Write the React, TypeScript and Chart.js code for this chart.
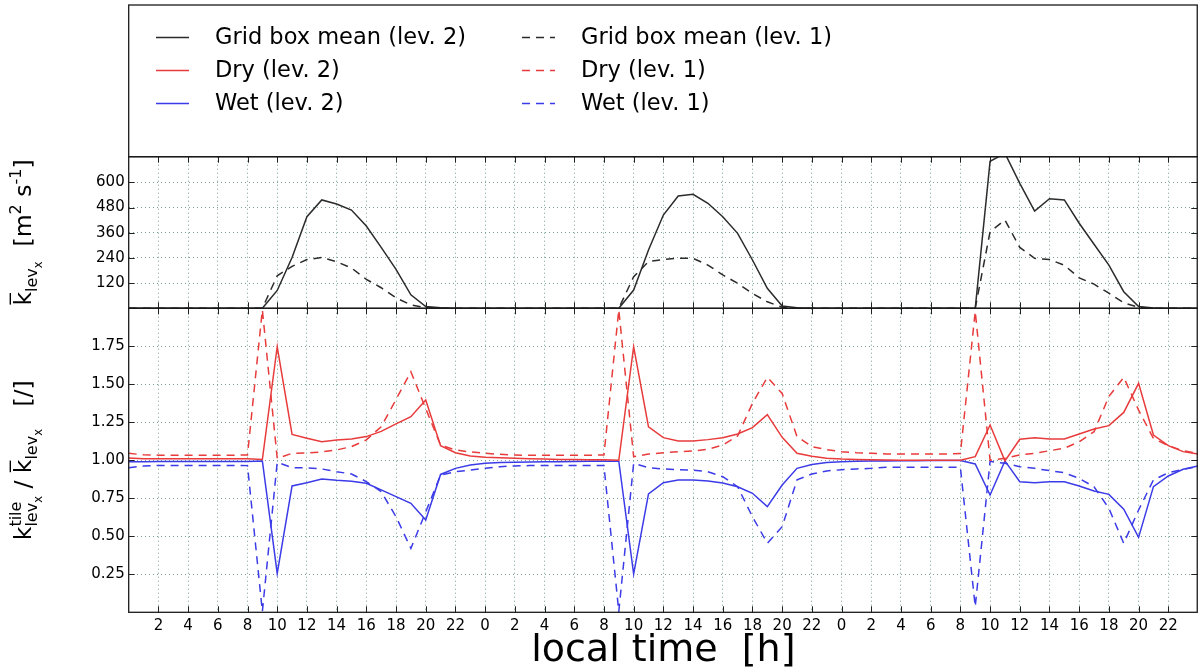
import React, { useEffect, useRef } from 'react';
import { Chart, registerables } from 'chart.js';

Chart.register(...registerables);

// ---------------- data ----------------
const HOURS = [
  0, 1, 2, 3, 4, 5, 6, 7, 8, 9, 10, 11, 12, 13, 14, 15, 16, 17, 18, 19, 20, 21, 22, 23,
  24, 25, 26, 27, 28, 29, 30, 31, 32, 33, 34, 35, 36, 37, 38, 39, 40, 41, 42, 43, 44, 45, 46, 47,
  48, 49, 50, 51, 52, 53, 54, 55, 56, 57, 58, 59, 60, 61, 62, 63, 64, 65, 66, 67, 68, 69, 70, 71, 72,
];

// upper panel: grid box mean diffusivity [m2 s-1]
const GBM_LEV2 = [
  0, 0, 0, 0, 0, 0, 0, 0, 0, 0, 85, 242, 436, 516, 497, 468, 392, 290, 185, 64, 8, 3, 0, 0,
  0, 0, 0, 0, 0, 0, 0, 0, 0, 0, 87, 278, 444, 535, 543, 500, 436, 357, 230, 95, 11, 3, 0, 0,
  0, 0, 0, 0, 0, 0, 0, 0, 0, 0, 700, 738, 595, 463, 522, 516, 405, 305, 206, 79, 8, 2, 0, 0, 0,
];
const GBM_LEV1 = [
  0, 0, 0, 0, 0, 0, 0, 0, 0, 0, 155, 200, 232, 242, 222, 192, 138, 98, 50, 16, 3, 0, 0, 0,
  0, 0, 0, 0, 0, 0, 0, 0, 0, 0, 150, 222, 233, 238, 238, 206, 159, 119, 71, 31, 5, 0, 0, 0,
  0, 0, 0, 0, 0, 0, 0, 0, 0, 0, 365, 420, 290, 238, 232, 205, 145, 115, 72, 26, 5, 0, 0, 0, 0,
];

// lower panel: tile / grid box mean ratio [/]
const DRY_LEV2 = [
  1.015, 1.01, 1.01, 1.01, 1.01, 1.01, 1.01, 1.01, 1.01, 1.005, 1.747, 1.17, 1.145, 1.122, 1.134, 1.14,
  1.156, 1.19, 1.24, 1.287, 1.397, 1.096, 1.05, 1.028,
  1.02, 1.017, 1.013, 1.011, 1.008, 1.006, 1.005, 1.004, 1.003, 1.0, 1.747, 1.22, 1.149, 1.127, 1.127, 1.136,
  1.149, 1.173, 1.215, 1.3, 1.151, 1.046, 1.026, 1.014,
  1.008, 1.005, 1.003, 1.002, 1.001, 1.0, 1.0, 1.0, 1.0, 1.024, 1.232, 0.996, 1.138, 1.149, 1.14, 1.14,
  1.173, 1.206, 1.228, 1.315, 1.506, 1.166, 1.096, 1.057, 1.041,
];
const DRY_LEV1 = [
  1.046, 1.036, 1.034, 1.033, 1.033, 1.033, 1.033, 1.033, 1.035, 1.99, 1.013, 1.046, 1.048, 1.055, 1.068, 1.09,
  1.134, 1.221, 1.4, 1.583, 1.34, 1.1, 1.068, 1.055,
  1.046, 1.039, 1.035, 1.033, 1.033, 1.033, 1.033, 1.033, 1.035, 1.99, 1.024, 1.041, 1.05, 1.057, 1.061, 1.072,
  1.1, 1.16, 1.375, 1.546, 1.44, 1.156, 1.09, 1.07,
  1.057, 1.05, 1.046, 1.042, 1.041, 1.041, 1.041, 1.041, 1.044, 1.98, 1.0, 1.013, 1.035, 1.046, 1.063, 1.079,
  1.122, 1.188, 1.42, 1.546, 1.33, 1.144, 1.096, 1.063, 1.046,
];
const WET_LEV2 = [
  0.99, 0.991, 0.992, 0.992, 0.992, 0.992, 0.992, 0.992, 0.992, 0.996, 0.256, 0.831, 0.853, 0.877, 0.868, 0.862,
  0.849, 0.805, 0.761, 0.717, 0.607, 0.907, 0.947, 0.969,
  0.98, 0.985, 0.987, 0.989, 0.99, 0.991, 0.992, 0.993, 0.993, 0.994, 0.252, 0.779, 0.853, 0.871, 0.871, 0.864,
  0.851, 0.826, 0.783, 0.695, 0.837, 0.947, 0.973, 0.985,
  0.99, 0.993, 0.995, 0.996, 0.997, 0.997, 0.998, 0.998, 0.998, 0.976, 0.772, 0.996, 0.859, 0.853, 0.859, 0.859,
  0.831, 0.798, 0.776, 0.678, 0.493, 0.827, 0.897, 0.941, 0.963,
];
const WET_LEV1 = [
  0.951, 0.962, 0.966, 0.966, 0.966, 0.966, 0.966, 0.966, 0.965, 0.005, 0.987, 0.951, 0.95, 0.943, 0.925, 0.91,
  0.86, 0.794, 0.629, 0.42, 0.66, 0.903, 0.925, 0.936,
  0.947, 0.958, 0.963, 0.965, 0.965, 0.965, 0.965, 0.965, 0.965, 0.005, 0.98, 0.951, 0.943, 0.938, 0.936, 0.925,
  0.892, 0.826, 0.629, 0.454, 0.563, 0.871, 0.91, 0.93,
  0.938, 0.943, 0.947, 0.955, 0.955, 0.955, 0.955, 0.955, 0.954, 0.037, 0.993, 0.98, 0.958, 0.947, 0.932, 0.918,
  0.881, 0.826, 0.684, 0.454, 0.673, 0.871, 0.918, 0.94, 0.958,
];

// ticks
const X_TICKS = [2, 4, 6, 8, 10, 12, 14, 16, 18, 20, 22, 24, 26, 28, 30, 32, 34, 36, 38, 40, 42, 44, 46, 48, 50, 52, 54, 56, 58, 60, 62, 64, 66, 68, 70];
const X_TICK_LABELS = [
  '2', '4', '6', '8', '10', '12', '14', '16', '18', '20', '22',
  '0', '2', '4', '6', '8', '10', '12', '14', '16', '18', '20', '22',
  '0', '2', '4', '6', '8', '10', '12', '14', '16', '18', '20', '22',
];
const Y_TOP_TICKS = [120, 240, 360, 480, 600];
const Y_TOP_LABELS = ['120', '240', '360', '480', '600'];
const Y_BOT_TICKS = [0.25, 0.5, 0.75, 1.0, 1.25, 1.5, 1.75];
const Y_BOT_LABELS = ['0.25', '0.50', '0.75', '1.00', '1.25', '1.50', '1.75'];

const LEGEND_LABELS = [
  'Grid box mean (lev. 2)', 'Dry (lev. 2)', 'Wet (lev. 2)',
  'Grid box mean (lev. 1)', 'Dry (lev. 1)', 'Wet (lev. 1)',
];

// ---------------- styles ----------------
const FONT = '"DejaVu Sans", "Liberation Sans", sans-serif';
const BLACK = '#2b2b2b';
const RED = '#e83b3b';
const BLUE = '#3b3be8';
const GRID = '#76a08f';
const DASH = [8, 6];

const toPts = (arr: number[]) => HOURS.map((h, i) => ({ x: h, y: arr[i] }));

type Piece = { t: string; size: number; dy: number; overbar?: boolean; noAdvance?: boolean };

function drawRotatedLabel(ctx: CanvasRenderingContext2D, pieces: Piece[], cx: number, cy: number) {
  ctx.save();
  ctx.translate(cx, cy);
  ctx.rotate(-Math.PI / 2);
  ctx.fillStyle = '#000';
  ctx.strokeStyle = '#000';
  ctx.textAlign = 'left';
  ctx.textBaseline = 'alphabetic';
  const widths = pieces.map((p) => {
    ctx.font = `${p.size}px ${FONT}`;
    return ctx.measureText(p.t).width;
  });
  let total = 0;
  pieces.forEach((p, i) => {
    if (!p.noAdvance) total += widths[i];
  });
  let x = -total / 2;
  pieces.forEach((p, i) => {
    ctx.font = `${p.size}px ${FONT}`;
    ctx.fillText(p.t, x, p.dy);
    if (p.overbar) {
      ctx.lineWidth = 1.4;
      ctx.beginPath();
      ctx.moveTo(x + 1, p.dy - p.size * 0.88);
      ctx.lineTo(x + widths[i] - 1, p.dy - p.size * 0.88);
      ctx.stroke();
    }
    if (!p.noAdvance) x += widths[i];
  });
  ctx.restore();
}

const M = 23.5; // main label font
const S = 16; // sub/superscript
const SS = 11.5; // sub-subscript

const decorPlugin = {
  id: 'decor',
  afterDraw(chart: any) {
    const { ctx, chartArea } = chart;
    const xs = chart.scales.x;
    const yT = chart.scales.yTop;
    const yB = chart.scales.yBot;
    const L = chartArea.left;
    const R = chartArea.right - 0.75;

    ctx.save();
    // inward tick marks
    ctx.strokeStyle = '#222';
    ctx.lineWidth = 1;
    const tl = 6;
    ctx.beginPath();
    for (const v of X_TICKS) {
      const px = Math.round(xs.getPixelForValue(v)) + 0.5;
      for (const s of [yT, yB]) {
        ctx.moveTo(px, s.top);
        ctx.lineTo(px, s.top + tl);
        ctx.moveTo(px, s.bottom);
        ctx.lineTo(px, s.bottom - tl);
      }
    }
    for (const [s, vals] of [[yT, Y_TOP_TICKS], [yB, Y_BOT_TICKS]] as any) {
      for (const v of vals) {
        const py = Math.round(s.getPixelForValue(v)) + 0.5;
        ctx.moveTo(L, py);
        ctx.lineTo(L + tl, py);
        ctx.moveTo(R, py);
        ctx.lineTo(R - tl, py);
      }
    }
    ctx.stroke();

    // frames
    ctx.strokeStyle = '#1a1a1a';
    ctx.lineWidth = 1.3;
    ctx.strokeRect(L, 5, R - L, yT.top - 5);
    ctx.strokeRect(L, yT.top, R - L, yT.bottom - yT.top);
    ctx.strokeRect(L, yB.top, R - L, yB.bottom - yB.top);

    // legend
    const items = [
      { label: LEGEND_LABELS[0], color: BLACK, dash: [] as number[], col: 0, row: 0 },
      { label: LEGEND_LABELS[1], color: RED, dash: [] as number[], col: 0, row: 1 },
      { label: LEGEND_LABELS[2], color: BLUE, dash: [] as number[], col: 0, row: 2 },
      { label: LEGEND_LABELS[3], color: BLACK, dash: DASH, col: 1, row: 0 },
      { label: LEGEND_LABELS[4], color: RED, dash: DASH, col: 1, row: 1 },
      { label: LEGEND_LABELS[5], color: BLUE, dash: DASH, col: 1, row: 2 },
    ];
    const colX = [156, 522];
    const rowY = [37, 70, 103];
    ctx.font = `22.5px ${FONT}`;
    ctx.textBaseline = 'middle';
    ctx.textAlign = 'left';
    for (const it of items) {
      const x0 = colX[it.col];
      const y0 = rowY[it.row] + 0.5;
      ctx.strokeStyle = it.color;
      ctx.lineWidth = 1.5;
      ctx.setLineDash(it.dash);
      ctx.beginPath();
      ctx.moveTo(x0, y0);
      ctx.lineTo(x0 + 33, y0);
      ctx.stroke();
      ctx.setLineDash([]);
      ctx.fillStyle = '#000';
      ctx.fillText(it.label, x0 + 59, rowY[it.row] + 1);
    }

    // y axis titles
    drawRotatedLabel(
      ctx,
      [
        { t: 'k', size: M, dy: 0, overbar: true },
        { t: 'lev', size: S, dy: 6 },
        { t: 'x', size: SS, dy: 11 },
        { t: '  [m', size: M, dy: 0 },
        { t: '2', size: S, dy: -10 },
        { t: ' s', size: M, dy: 0 },
        { t: '-1', size: S, dy: -10 },
        { t: ']', size: M, dy: 0 },
      ],
      31,
      (yT.top + yT.bottom) / 2
    );
    drawRotatedLabel(
      ctx,
      [
        { t: 'k', size: M, dy: 0 },
        { t: 'tile', size: S, dy: -10, noAdvance: true },
        { t: 'lev', size: S, dy: 6 },
        { t: 'x', size: SS, dy: 11 },
        { t: ' / ', size: M, dy: 0 },
        { t: 'k', size: M, dy: 0, overbar: true },
        { t: 'lev', size: S, dy: 6 },
        { t: 'x', size: SS, dy: 11 },
        { t: '   [/]', size: M, dy: 0 },
      ],
      31,
      (yB.top + yB.bottom) / 2
    );
    ctx.restore();
  },
};

export default function App() {
  const ref = useRef<HTMLCanvasElement | null>(null);

  useEffect(() => {
    document.body.style.margin = '0';
    const canvas = ref.current;
    if (!canvas) return;
    Chart.defaults.font.family = FONT;
    Chart.defaults.color = '#000';

    const line = (label: string, arr: number[], color: string, dashed: boolean, axis: string) => ({
      label,
      data: toPts(arr),
      yAxisID: axis,
      borderColor: color,
      backgroundColor: color,
      borderWidth: 1.5,
      borderDash: dashed ? DASH : [],
      pointRadius: 0,
      pointHoverRadius: 0,
      tension: 0,
      fill: false,
    });

    const gridOpts = { color: GRID, lineWidth: 1, drawTicks: false };
    const borderOpts = { display: false, dash: [1, 3] };

    const chart = new Chart(canvas, {
      type: 'line',
      data: {
        datasets: [
          line(LEGEND_LABELS[0], GBM_LEV2, BLACK, false, 'yTop'),
          line(LEGEND_LABELS[3], GBM_LEV1, BLACK, true, 'yTop'),
          line(LEGEND_LABELS[1], DRY_LEV2, RED, false, 'yBot'),
          line(LEGEND_LABELS[2], WET_LEV2, BLUE, false, 'yBot'),
          line(LEGEND_LABELS[4], DRY_LEV1, RED, true, 'yBot'),
          line(LEGEND_LABELS[5], WET_LEV1, BLUE, true, 'yBot'),
        ] as any,
      },
      options: {
        animation: false,
        responsive: true,
        maintainAspectRatio: false,
        devicePixelRatio: 1,
        events: [],
        layout: { padding: { top: 156.7, left: 0, right: 0, bottom: 0 } },
        plugins: {
          legend: { display: false },
          tooltip: { enabled: false },
          title: { display: false },
        },
        scales: {
          x: {
            type: 'linear',
            min: 0,
            max: 72,
            afterBuildTicks: (s: any) => {
              s.ticks = X_TICKS.map((v) => ({ value: v }));
            },
            afterFit: (s: any) => {
              s.height = 55.7;
            },
            ticks: {
              autoSkip: false,
              maxRotation: 0,
              minRotation: 0,
              padding: 5,
              color: '#000',
              font: { size: 15 },
              callback: (_v: any, i: number) => X_TICK_LABELS[i],
            },
            grid: gridOpts,
            border: borderOpts,
            title: {
              display: true,
              text: 'local time  [h]',
              color: '#000',
              font: { size: 38, lineHeight: 0.9 },
              padding: { top: 0, bottom: 0 },
            },
          },
          yBot: {
            type: 'linear',
            position: 'left',
            stack: 'v',
            stackWeight: 304,
            min: 0,
            max: 2,
            afterBuildTicks: (s: any) => {
              s.ticks = Y_BOT_TICKS.map((v) => ({ value: v }));
            },
            afterFit: (s: any) => {
              s.width = 128.7;
            },
            ticks: {
              autoSkip: false,
              padding: 4,
              color: '#000',
              font: { size: 15 },
              callback: (_v: any, i: number) => Y_BOT_LABELS[i],
            },
            grid: gridOpts,
            border: borderOpts,
          },
          yTop: {
            type: 'linear',
            position: 'left',
            stack: 'v',
            stackWeight: 151.6,
            min: 0,
            max: 722,
            afterBuildTicks: (s: any) => {
              s.ticks = Y_TOP_TICKS.map((v) => ({ value: v }));
            },
            afterFit: (s: any) => {
              s.width = 128.7;
            },
            ticks: {
              autoSkip: false,
              padding: 4,
              color: '#000',
              font: { size: 15 },
              callback: (_v: any, i: number) => Y_TOP_LABELS[i],
            },
            grid: gridOpts,
            border: borderOpts,
          },
        } as any,
      },
      plugins: [decorPlugin],
    });

    return () => chart.destroy();
  }, []);

  return (
    <div style={{ position: 'relative', width: 1198, height: 668 }}>
      <canvas ref={ref} />
    </div>
  );
}
